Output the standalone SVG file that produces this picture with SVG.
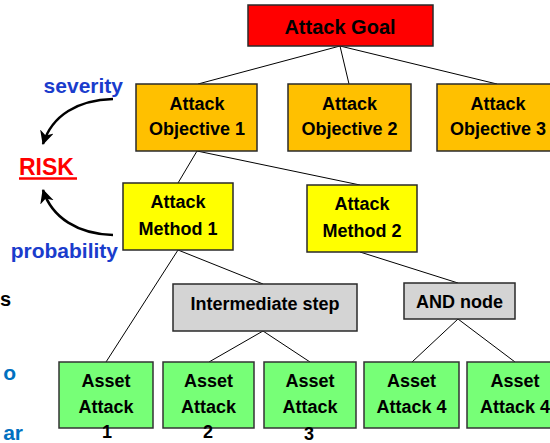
<svg xmlns="http://www.w3.org/2000/svg" width="550" height="443" viewBox="0 0 550 443">
<style>
  .box { stroke: #2a2a2a; stroke-width: 1.5; }
  .goal { fill: #ff0000; }
  .obj { fill: #ffc000; }
  .meth { fill: #ffff00; }
  .grey { fill: #d4d4d4; }
  .asset { fill: #77ff77; stroke: #333333; }
  text { font-family: "Liberation Sans", Arial, sans-serif; font-weight: bold; }
  .lbl { font-size: 18px; fill: #000; text-anchor: middle; }
  .blue { font-size: 21px; fill: #1a3ccc; }
  .lblue { font-size: 21px; fill: #0070c0; }
  .conn line { stroke: #000; stroke-width: 1; }
  .arc { fill: none; stroke: #000; stroke-width: 2.5; }
</style>
<defs>
  <marker id="ah" markerUnits="userSpaceOnUse" markerWidth="16" markerHeight="16" refX="13" refY="7" orient="auto">
    <path d="M0,0 L14,7 L0,14 L4,7 z" fill="#000"/>
  </marker>
</defs>
<rect width="550" height="443" fill="#ffffff"/>

<g id="connectors" class="conn">
  <line x1="340" y1="46" x2="198" y2="84"/>
  <line x1="340" y1="46" x2="349" y2="84"/>
  <line x1="340" y1="46" x2="497" y2="84"/>
  <line x1="197" y1="151" x2="178" y2="183"/>
  <line x1="197" y1="151" x2="360" y2="185"/>
  <line x1="178" y1="250" x2="106" y2="362"/>
  <line x1="178" y1="250" x2="263" y2="284"/>
  <line x1="360" y1="252" x2="458" y2="283"/>
  <line x1="263" y1="331" x2="209" y2="362"/>
  <line x1="263" y1="331" x2="310" y2="362"/>
  <line x1="458" y1="319" x2="412" y2="362"/>
  <line x1="458" y1="319" x2="515" y2="362"/>
</g>

<g id="risk-arrows">
  <path class="arc" d="M113,99 C78,100 52,115 43,144" marker-end="url(#ah)"/>
  <path class="arc" d="M113,235 C78,234 52,218 43,190" marker-end="url(#ah)"/>
</g>

<g id="attack-goal">
  <rect class="box goal" x="248" y="5" width="185" height="41"/>
  <text class="lbl" x="340" y="34" style="font-size:20px">Attack Goal</text>
</g>

<g id="objective-1">
  <rect class="box obj" x="136" y="84" width="121" height="67"/>
  <text class="lbl" x="197" y="110">Attack</text>
  <text class="lbl" x="197" y="135">Objective 1</text>
</g>
<g id="objective-2">
  <rect class="box obj" x="288" y="84" width="123" height="67"/>
  <text class="lbl" x="349.5" y="110">Attack</text>
  <text class="lbl" x="349.5" y="135">Objective 2</text>
</g>
<g id="objective-3">
  <rect class="box obj" x="437" y="84" width="123" height="67"/>
  <text class="lbl" x="498" y="110">Attack</text>
  <text class="lbl" x="498" y="135">Objective 3</text>
</g>

<g id="method-1">
  <rect class="box meth" x="123" y="183" width="110" height="67"/>
  <text class="lbl" x="178" y="208">Attack</text>
  <text class="lbl" x="178" y="235">Method 1</text>
</g>
<g id="method-2">
  <rect class="box meth" x="307" y="185" width="110" height="67"/>
  <text class="lbl" x="362" y="210">Attack</text>
  <text class="lbl" x="362" y="237">Method 2</text>
</g>

<g id="intermediate-step">
  <rect class="box grey" x="173" y="284" width="184" height="47"/>
  <text class="lbl" x="265" y="310">Intermediate step</text>
</g>
<g id="and-node">
  <rect class="box grey" x="404" y="283" width="111" height="36"/>
  <text class="lbl" x="459.5" y="308">AND node</text>
</g>

<g id="asset-attack-1">
  <rect class="box asset" x="59" y="362" width="94" height="66"/>
  <text class="lbl" x="106" y="387">Asset</text>
  <text class="lbl" x="106" y="413">Attack</text>
  <text class="lbl" x="107" y="438">1</text>
</g>
<g id="asset-attack-2">
  <rect class="box asset" x="163" y="362" width="91" height="66"/>
  <text class="lbl" x="208.5" y="387">Asset</text>
  <text class="lbl" x="208.5" y="413">Attack</text>
  <text class="lbl" x="208" y="438">2</text>
</g>
<g id="asset-attack-3">
  <rect class="box asset" x="264" y="362" width="92" height="66"/>
  <text class="lbl" x="310" y="387">Asset</text>
  <text class="lbl" x="310" y="413">Attack</text>
  <text class="lbl" x="309" y="439.5">3</text>
</g>
<g id="asset-attack-4a">
  <rect class="box asset" x="364" y="362" width="95" height="66"/>
  <text class="lbl" x="411.5" y="387">Asset</text>
  <text class="lbl" x="411.5" y="413">Attack 4</text>
</g>
<g id="asset-attack-4b">
  <rect class="box asset" x="467" y="362" width="96" height="66"/>
  <text class="lbl" x="515" y="387">Asset</text>
  <text class="lbl" x="515" y="413">Attack 4</text>
</g>

<g id="risk">
  <text x="19" y="175" style="font-size:23px; fill:#ff0000">RISK</text>
  <line x1="19" y1="178.5" x2="77" y2="178.5" stroke="#ff0000" stroke-width="2.5"/>
</g>
<g id="labels">
  <text class="blue" x="123" y="93" text-anchor="end">severity</text>
  <text class="blue" x="118" y="258" text-anchor="end">probability</text>
  <text x="11" y="306" text-anchor="end" style="font-size:20px; fill:#000">s</text>
  <text class="lblue" x="16" y="380" text-anchor="end">o</text>
  <text class="lblue" x="23" y="440" text-anchor="end">ar</text>
</g>
</svg>
